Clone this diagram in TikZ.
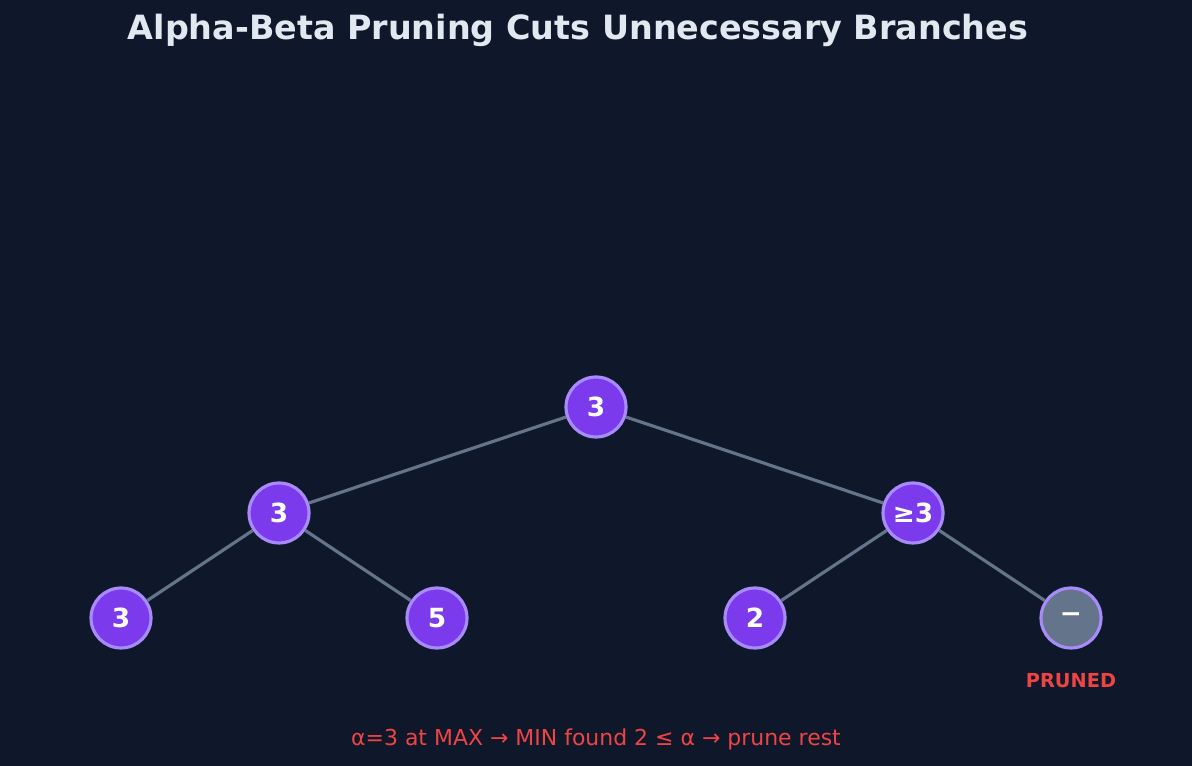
\documentclass[tikz,border=0pt]{standalone}
\usepackage{fontspec}
\setmainfont{DejaVu Sans}
\usetikzlibrary{positioning}
\definecolor{bgdark}{HTML}{0F172A}
\definecolor{purplefill}{HTML}{7C3AED}
\definecolor{purpleedge}{HTML}{A78BFA}
\definecolor{slateedge}{HTML}{64748B}
\definecolor{titlegray}{HTML}{E2E8F0}
\definecolor{warnred}{HTML}{EF4444}
\tikzset{
treenode/.style={circle,draw=purpleedge,fill=purplefill,line width=1.8pt,minimum size=1.2cm,inner sep=0pt,text=white,font=\fontsize{15}{15}\selectfont\bfseries},
prunednode/.style={treenode,fill=slateedge},
treeedge/.style={draw=slateedge,line width=1.8pt},
}
\begin{document}
\begin{tikzpicture}[x=0.02cm,y=0.02cm]
\fill[bgdark] (0,0) rectangle (1192,766);
\useasboundingbox (0,0) rectangle (1192,766);
% title
\node[text=titlegray,font=\fontsize{19}{19}\selectfont\bfseries] (title) at (578,736) {Alpha-Beta Pruning Cuts Unnecessary Branches};
% nodes
\node[treenode] (root) at (596,359) {3};
\node[treenode] (minL) at (279,253) {3};
\node[treenode] (minR) at (913,253) {≥3};
\node[treenode] (leafA) at (121,148) {3};
\node[treenode] (leafB) at (437,148) {5};
\node[treenode] (leafC) at (755,148) {2};
\node[prunednode] (leafD) at (1071,148) {−};
\node[text=warnred,font=\fontsize{11}{11}\selectfont\bfseries,below=0.35cm of leafD] (prunedlbl) {PRUNED};
% edges
\draw[treeedge] (root) -- (minL);
\draw[treeedge] (root) -- (minR);
\draw[treeedge] (minL) -- (leafA);
\draw[treeedge] (minL) -- (leafB);
\draw[treeedge] (minR) -- (leafC);
\draw[treeedge] (minR) -- (leafD);
% note
\node[text=warnred,font=\fontsize{12.5}{12.5}\selectfont] (note) at (596,27) {α=3 at MAX → MIN found 2 ≤ α → prune rest};
\end{tikzpicture}
\end{document}
